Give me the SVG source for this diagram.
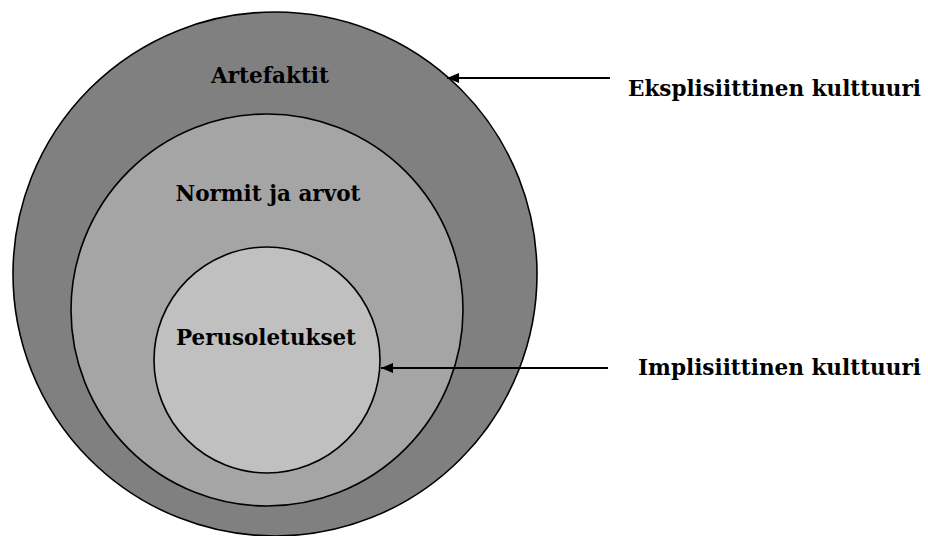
<svg xmlns="http://www.w3.org/2000/svg" width="928" height="536" viewBox="0 0 928 536">
<style>
.ring{stroke:#000;stroke-width:1.6}
.lbl{font-family:"DejaVu Serif","Liberation Serif",serif;font-weight:bold;font-size:22px;fill:#000}
.conn{stroke:#000;stroke-width:2;fill:none}
</style>
<defs>
<marker id="ah" markerWidth="12" markerHeight="10" refX="12" refY="5" orient="auto" markerUnits="userSpaceOnUse">
<path d="M0,0 L12,5 L0,10 Z" fill="#000"/>
</marker>
</defs>
<g id="outer"><circle class="ring" cx="275" cy="274" r="262" fill="#808080"/><text class="lbl" x="270" y="83" text-anchor="middle" textLength="118" lengthAdjust="spacingAndGlyphs">Artefaktit</text></g>
<g id="middle"><circle class="ring" cx="267" cy="310" r="196" fill="#a5a5a5"/><text class="lbl" x="268" y="201" text-anchor="middle" textLength="185" lengthAdjust="spacingAndGlyphs">Normit ja arvot</text></g>
<g id="inner"><circle class="ring" cx="267" cy="360" r="113" fill="#c0c0c0"/><text class="lbl" x="266" y="345" text-anchor="middle" textLength="180" lengthAdjust="spacingAndGlyphs">Perusoletukset</text></g>
<g id="explicit"><text class="lbl" x="628" y="96" textLength="293" lengthAdjust="spacingAndGlyphs">Eksplisiittinen kulttuuri</text></g>
<g id="implicit"><text class="lbl" x="638" y="375" textLength="283" lengthAdjust="spacingAndGlyphs">Implisiittinen kulttuuri</text></g>
<g id="connectors">
<line class="conn" x1="610" y1="78" x2="447" y2="78" marker-end="url(#ah)"/>
<line class="conn" x1="608" y1="368" x2="381" y2="368" marker-end="url(#ah)"/>
</g>
</svg>
